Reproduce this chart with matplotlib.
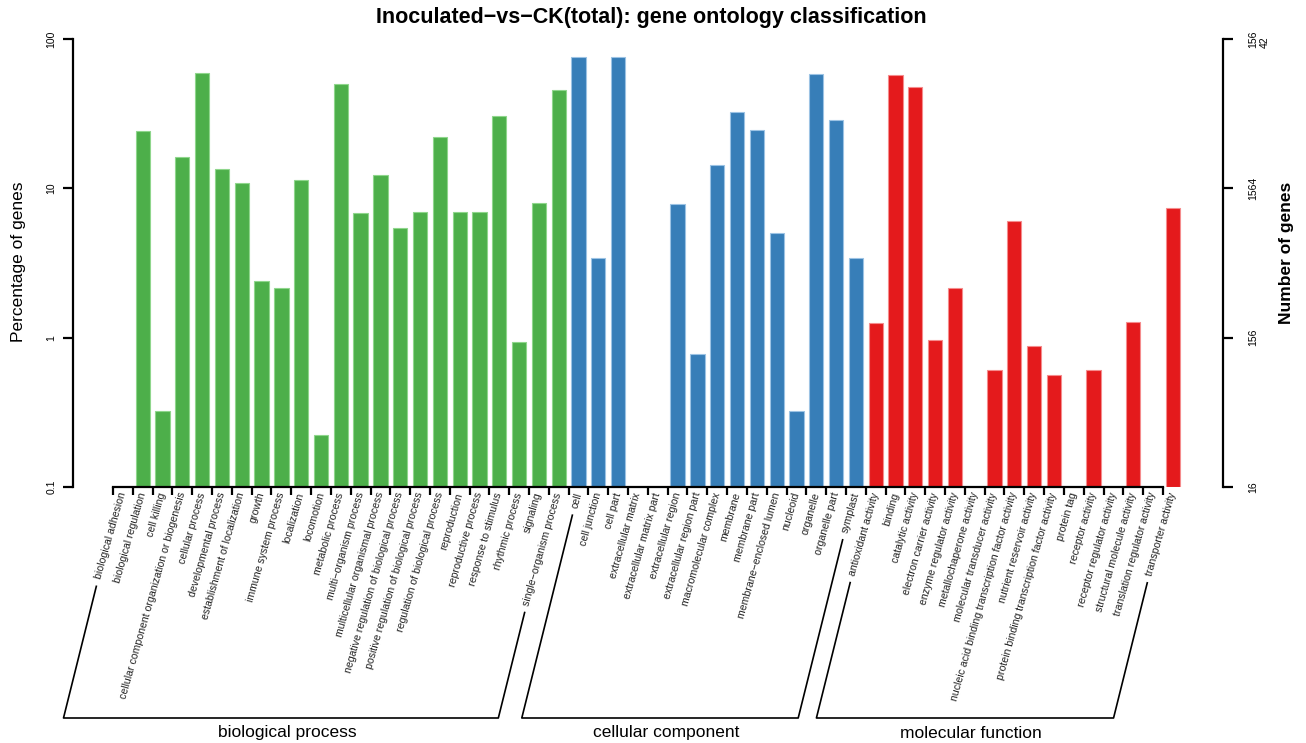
import matplotlib
matplotlib.use("Agg")
import matplotlib.pyplot as plt
import numpy as np
from matplotlib.lines import Line2D

plt.rcParams['font.family'] = ['Liberation Sans', 'DejaVu Sans']

bp_terms = ["biological adhesion", "biological regulation", "cell killing",
            "cellular component organization or biogenesis", "cellular process",
            "developmental process", "establishment of localization", "growth",
            "immune system process", "localization", "locomotion", "metabolic process",
            "multi\u2212organism process", "multicellular organismal process",
            "negative regulation of biological process",
            "positive regulation of biological process",
            "regulation of biological process", "reproduction", "reproductive process",
            "response to stimulus", "rhythmic process", "signaling",
            "single\u2212organism process"]
bp_vals = [0, 24.2, 0.323, 16.3, 59.3, 13.5, 10.8, 2.41, 2.15, 11.3, 0.223, 50.0,
           6.84, 12.3, 5.43, 6.95, 21.9, 6.95, 6.95, 30.3, 0.936, 7.98, 45.6]

cc_terms = ["cell", "cell junction", "cell part", "extracellular matrix",
            "extracellular matrix part", "extracellular region",
            "extracellular region part", "macromolecular complex", "membrane",
            "membrane part", "membrane\u2212enclosed lumen", "nucleoid", "organelle",
            "organelle part", "symplast"]
cc_vals = [75.9, 3.42, 75.9, 0, 0, 7.86, 0.782, 14.3, 32.5, 24.5, 5.06, 0.323,
           58.7, 28.6, 3.42]

mf_terms = ["antioxidant activity", "binding", "catalytic activity",
            "electron carrier activity", "enzyme regulator activity",
            "metallochaperone activity", "molecular transducer activity",
            "nucleic acid binding transcription factor activity",
            "nutrient reservoir activity",
            "protein binding transcription factor activity", "protein tag",
            "receptor activity", "receptor regulator activity",
            "structural molecule activity", "translation regulator activity",
            "transporter activity"]
mf_vals = [1.26, 57.8, 47.5, 0.97, 2.14, 0, 0.611, 6.08, 0.885, 0.566, 0, 0.611,
           0, 1.28, 0, 7.44]

groups = ["biological process", "cellular component", "molecular function"]
colors = ["#4DAF4A", "#377EB8", "#E41A1C"]
edges = ["#8FD68C", "#9CC3E4", "#F58C8D"]

left_ticks = [0.1, 1, 10, 100]
left_labels = ["0.1", "1", "10", "100"]
right_labels = ["16", "156", "1564", "156\n42"]

W, H = 1306, 743
fig = plt.figure(figsize=(W / 100, H / 100), dpi=100)
ax = fig.add_axes([73 / W, 1 - 487 / H, 1150 / W, 448 / H])

terms = bp_terms + cc_terms + mf_terms
sets = [bp_vals, cc_vals, mf_vals]
start = 0
spans = []
for vals, c, e in zip(sets, colors, edges):
    idx = np.arange(start, start + len(vals))
    v = np.array(vals, dtype=float)
    m = v > 0
    ax.bar(idx[m] + 0.5, v[m] - 0.1, bottom=0.1, width=0.72, color=c,
           edgecolor=e, linewidth=0.8)
    spans.append((start, start + len(vals) - 1))
    start += len(vals)

n = len(terms)
ax.set_yscale('log')
ax.set_ylim(0.1, 100)
ax.set_xlim(-40 / 19.81, 1110 / 19.81)

for s in ['top', 'right']:
    ax.spines[s].set_visible(False)
ax.spines['left'].set_linewidth(1.6)
ax.spines['bottom'].set_linewidth(1.6)
ax.spines['bottom'].set_bounds(0, n - 1)

ax.set_yticks(left_ticks)
ax.set_yticklabels(left_labels, rotation=90, va='center', fontsize=7.5)
ax.yaxis.set_minor_locator(matplotlib.ticker.NullLocator())
ax.tick_params(axis='y', length=7, width=1.6, pad=5)

ax.set_xticks(np.arange(n))
ax.set_xticklabels([])
ax.tick_params(axis='x', which='major', length=6, width=1.6)
ax.set_xticks(np.arange(n) + 0.5, minor=True)
ax.set_xticklabels(terms, minor=True, rotation=74, ha='right', va='center',
                   rotation_mode='anchor', fontsize=7.6, color='#222222')
ax.tick_params(axis='x', which='minor', length=0, pad=4)

ax2 = ax.twinx()
ax2.set_yscale('log')
ax2.set_ylim(0.1, 100)
for s in ['top', 'left', 'bottom']:
    ax2.spines[s].set_visible(False)
ax2.spines['right'].set_linewidth(1.6)
ax2.set_yticks(left_ticks)
ax2.set_yticklabels(right_labels, rotation=90, va='center', fontsize=7.5,
                    multialignment='left')
ax2.yaxis.set_minor_locator(matplotlib.ticker.NullLocator())
ax2.tick_params(axis='y', length=7, width=1.6, pad=11)

fig.text(651 / W, 1 - 18 / H, "Inoculated\u2212vs\u2212CK(total): gene ontology classification",
         ha='center', va='center', fontsize=15.5, fontweight='bold')
fig.text(19 / W, 1 - 262 / H, "Percentage of genes", rotation=90, ha='center',
         va='center', fontsize=12.5)
fig.text(1286 / W, 1 - 253 / H, "Number of genes", rotation=90, ha='center',
         va='center', fontsize=12.5, fontweight='bold')

# group brackets under the labels
fig.canvas.draw()
renderer = fig.canvas.get_renderer()
labs = ax.get_xticklabels(minor=True)
ybot = H - 718
slope = 1 / np.tan(np.radians(76))
inv = fig.transFigure.inverted()
for (a, b), name in zip(spans, groups):
    pts = []
    for k in (a, b):
        bb = labs[k].get_window_extent(renderer)
        x0, y0 = bb.x0 + 3, bb.y0 - 6
        x1 = x0 - (y0 - ybot) * slope
        pts.append(((x0, y0), (x1, ybot)))
    (p0, p1), (q0, q1) = pts
    xs = [p0[0], p1[0], q1[0], q0[0]]
    ys = [p0[1], p1[1], q1[1], q0[1]]
    fpts = inv.transform(np.column_stack([xs, ys]))
    fig.add_artist(Line2D(fpts[:, 0], fpts[:, 1], color='black', lw=1.2))
    cx = (p1[0] + q1[0]) / 2 + 6
    fig.text(cx / W, 10 / H, name, ha='center', va='center', fontsize=12.5)

fig.savefig("out.png", dpi=100)
